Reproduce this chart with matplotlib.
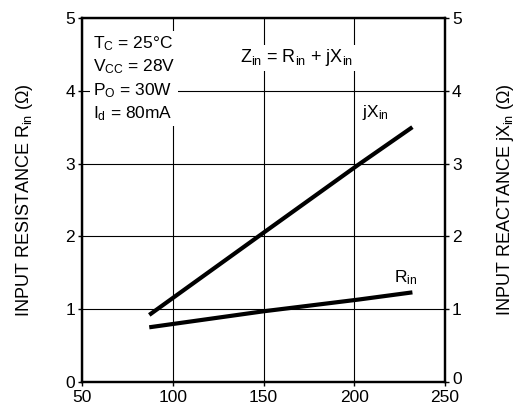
import numpy as np
import matplotlib
matplotlib.use("Agg")
import matplotlib.pyplot as plt
import matplotlib.transforms as mtransforms

plt.rcParams['font.family'] = ['Liberation Sans', 'DejaVu Sans']
plt.rcParams['mathtext.fontset'] = 'custom'
plt.rcParams['mathtext.rm'] = 'Liberation Sans'
plt.rcParams['mathtext.it'] = 'Liberation Sans'

# frequency (MHz) vs input impedance
freq = [87, 150, 202, 232]
x_in = [0.92, 2.05, 2.98, 3.5]
r_in = [0.75, 0.97, 1.13, 1.23]

xticks = [50, 100, 150, 200, 250]
yticks = [0, 1, 2, 3, 4, 5]

fig = plt.figure(figsize=(5.23, 4.08), dpi=100)
ax = fig.add_axes([0.157, 0.064, 0.694, 0.892])

ax.set_xlim(50, 250)
ax.set_ylim(0, 5)
ax.set_xticks(xticks)
ax.set_yticks(yticks)
ax.grid(True, color='black', linewidth=0.8)
ax.set_axisbelow(True)
for s in ax.spines.values():
    s.set_linewidth(1.6)
ax.tick_params(labelsize=12.5, length=3, width=1, direction='out', pad=2)
ax.tick_params(axis='x', pad=3)

ax.plot(freq, x_in, color='black', linewidth=3, solid_capstyle='butt', zorder=3)
ax.plot(freq, r_in, color='black', linewidth=3, solid_capstyle='butt', zorder=3)

ax.text(56, 3.55,
        "T$_\\mathrm{C}$ = 25°C\nV$_\\mathrm{CC}$ = 28V\nP$_\\mathrm{O}$ = 30W\nI$_\\mathrm{d}$ = 80mA",
        fontsize=12.5, va='bottom', ha='left', linespacing=1.35,
        bbox=dict(facecolor='white', edgecolor='none', pad=2), zorder=4)
ax.text(137, 4.45, "Z$_\\mathrm{in}$ = R$_\\mathrm{in}$ + jX$_\\mathrm{in}$",
        fontsize=13, va='center', ha='left',
        bbox=dict(facecolor='white', edgecolor='none', pad=2), zorder=4)
ax.text(204, 3.7, "jX$_\\mathrm{in}$", fontsize=12.5, va='center', ha='left',
        bbox=dict(facecolor='white', edgecolor='none', pad=1), zorder=4)
ax.text(222, 1.43, "R$_\\mathrm{in}$", fontsize=12.5, va='center', ha='left', zorder=4)

ax.set_ylabel("INPUT RESISTANCE R$_\\mathrm{in}$ ($\\Omega$)", fontsize=13, labelpad=22)

ax2 = ax.twinx()
ax2.set_ylim(0, 5)
ax2.set_yticks(yticks)
ax2.tick_params(labelsize=12.5, length=3, width=1, direction='out', pad=2)
ax2.set_ylabel("INPUT REACTANCE jX$_\\mathrm{in}$ ($\\Omega$)", fontsize=13, labelpad=24)
for s in ax2.spines.values():
    s.set_linewidth(1.6)

# nudge the right-hand "0" up so it clears the "250"
fig.canvas.draw()
lab0 = ax2.get_yticklabels()[0]
lab0.set_transform(lab0.get_transform() + mtransforms.ScaledTranslation(0, 3 / 72, fig.dpi_scale_trans))

fig.savefig("out.png", dpi=100)
